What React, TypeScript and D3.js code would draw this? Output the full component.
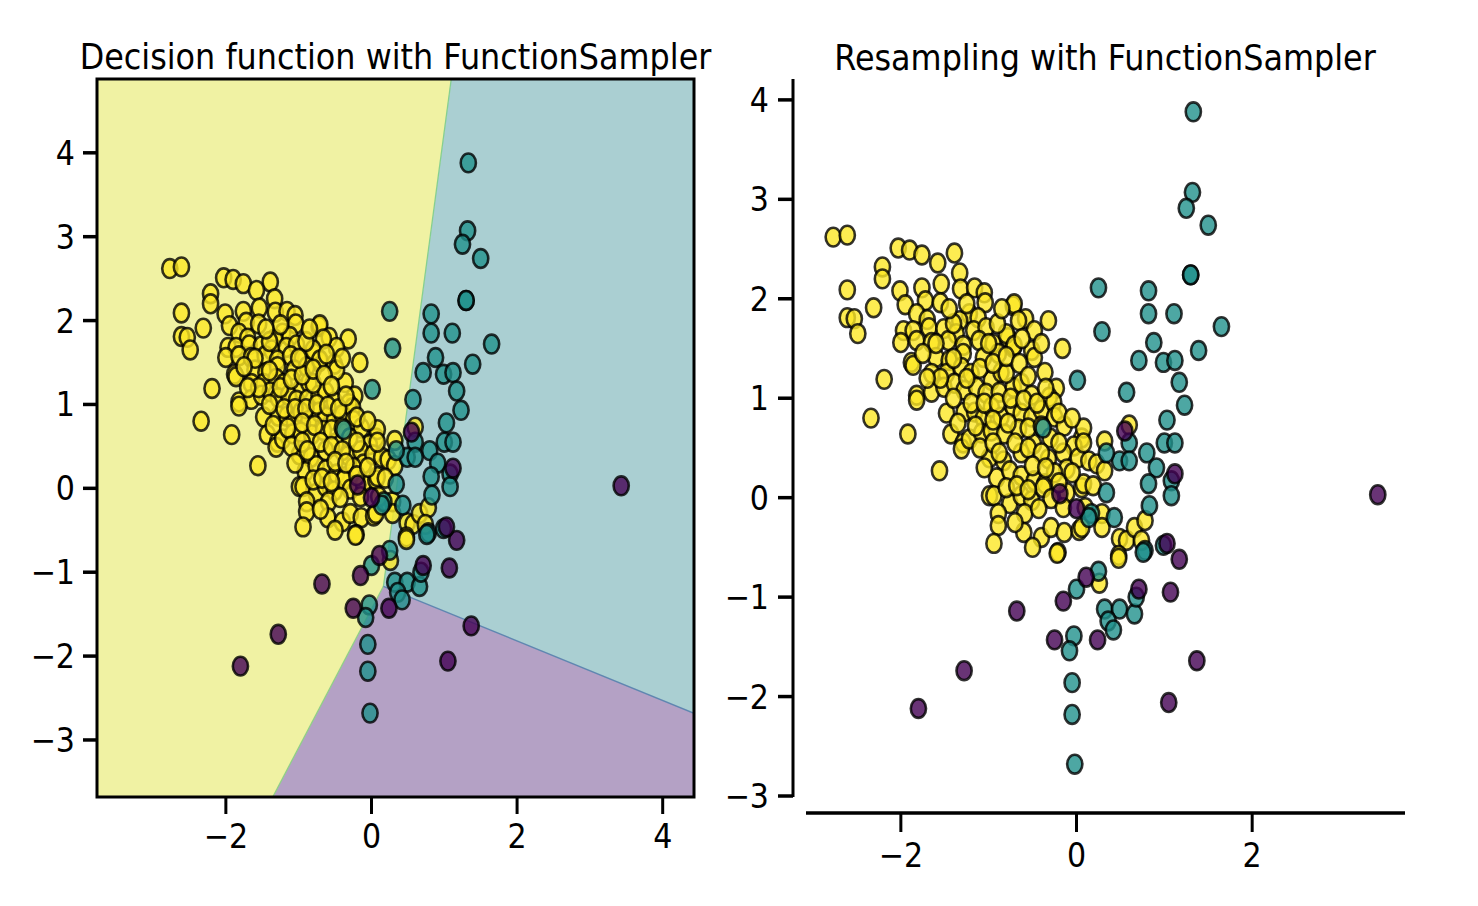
import React, { useRef, useEffect } from 'react';
import * as d3 from 'd3';

type Pt = [number, number];

// class 0 (purple)
const class0: Pt[] = [
  [3.43, 0.03], [-1.80, -2.12], [-1.28, -1.74], [-0.68, -1.14], [-0.25, -1.43],
  [0.24, -1.43], [-0.15, -1.04], [0.11, -0.80], [0.71, -0.92], [1.07, -0.95],
  [1.17, -0.62], [1.37, -1.64], [1.05, -2.06], [0.55, 0.67], [1.12, 0.24],
  [1.03, -0.46], [-0.19, 0.04], [0.00, -0.11],
];

// class 1 (teal)
const class1: Pt[] = [
  [1.33, 3.88], [1.32, 3.07], [1.25, 2.91], [1.50, 2.74], [1.30, 2.24], [1.30, 2.24],
  [0.25, 2.11], [0.82, 2.08], [0.82, 1.85], [1.11, 1.85], [1.65, 1.72], [0.29, 1.67],
  [0.88, 1.56], [1.39, 1.48], [0.71, 1.38], [0.99, 1.36], [1.12, 1.38], [1.17, 1.16],
  [0.01, 1.18], [0.57, 1.06], [1.23, 0.93], [1.03, 0.78], [1.00, 0.55], [1.12, 0.55],
  [0.60, 0.55], [0.80, 0.45], [0.49, 0.37], [0.60, 0.37], [0.34, 0.45], [0.91, 0.30],
  [0.82, 0.14], [1.08, 0.17], [1.08, 0.02], [0.34, 0.05], [0.83, -0.08], [0.43, -0.20],
  [0.17, -0.16], [0.78, -0.53], [0.99, -0.48], [0.14, -0.20], [-0.38, 0.70], [0.76, -0.55],
  [0.25, -0.74], [0.00, -0.92], [0.32, -1.12], [0.49, -1.12], [0.36, -1.24], [0.42, -1.33],
  [0.66, -1.17], [0.68, -1.00], [-0.03, -1.39], [-0.08, -1.54], [-0.05, -1.86],
  [-0.05, -2.18], [-0.02, -2.68],
];

// class 2 (yellow)
const class2: Pt[] = [
  [-2.77, 2.62], [-2.61, 2.64], [-2.03, 2.51], [-1.90, 2.49], [-1.76, 2.44], [-1.39, 2.46],
  [-1.58, 2.36], [-2.21, 2.32], [-2.21, 2.20], [-1.33, 2.26], [-2.61, 2.09], [-2.01, 2.08],
  [-1.76, 2.11], [-1.54, 2.15], [-1.32, 2.10], [-1.16, 2.11], [-1.05, 2.06], [-1.95, 1.94],
  [-1.72, 1.98], [-1.55, 1.96], [-1.04, 1.96], [-0.72, 1.93], [-2.31, 1.91], [-2.61, 1.81],
  [-2.53, 1.80], [-2.49, 1.65], [-1.82, 1.85], [-1.70, 1.79], [-1.22, 1.85], [-1.12, 1.81],
  [-1.33, 1.78], [-1.97, 1.68], [-1.86, 1.68], [-1.68, 1.71], [-1.51, 1.70], [-1.37, 1.65],
  [-1.17, 1.68], [-1.03, 1.71], [-2.00, 1.56], [-1.82, 1.58], [-1.65, 1.56], [-1.46, 1.58],
  [-1.29, 1.53], [-1.11, 1.58], [-0.95, 1.55], [-0.78, 1.61], [-0.72, 1.51], [-1.88, 1.36],
  [-1.86, 1.33], [-1.60, 1.41], [-1.45, 1.38], [-1.29, 1.45], [-1.06, 1.41], [-0.89, 1.45],
  [-1.65, 1.25], [-1.48, 1.25], [-1.31, 1.31], [-1.20, 1.25], [-0.97, 1.18], [-0.86, 1.26],
  [-2.19, 1.19], [-1.82, 1.03], [-1.65, 1.06], [-1.51, 1.11], [-1.39, 1.15], [-1.28, 1.08],
  [-1.14, 1.11], [-1.03, 1.05], [-0.88, 1.06], [-0.72, 1.11],
  [-0.71, 1.95], [-0.58, 1.80], [-0.32, 1.78], [-0.48, 1.68], [-0.66, 1.78], [-0.80, 1.65],
  [-0.71, 1.53], [-0.51, 1.48], [-0.16, 1.50], [-0.36, 1.26], [-0.63, 1.15], [-0.48, 1.41],
  [-0.23, 1.10], [-0.80, 1.25], [-0.51, 1.03], [-0.31, 1.01],
  [-1.82, 0.98], [-1.92, 0.64], [-1.56, 0.27], [-1.48, 0.85], [-1.43, 0.64], [-1.29, 0.55],
  [-1.31, 0.49], [-1.28, 0.86], [-1.16, 0.86], [-1.06, 0.80], [-0.97, 0.91], [-0.86, 0.81],
  [-0.72, 0.91], [-0.63, 0.85], [-0.51, 0.81], [-0.40, 0.88], [-0.26, 0.96], [-0.25, 0.81],
  [-1.22, 0.59], [-1.08, 0.65], [-0.97, 0.67], [-0.82, 0.64], [-0.66, 0.69], [-0.49, 0.54],
  [-0.14, 0.72], [0.06, 0.60], [-0.03, 0.52], [-0.99, 0.40], [-0.83, 0.37], [-0.63, 0.45],
  [-0.32, 0.39], [-0.15, 0.45], [-0.11, 0.29], [0.02, 0.40], [0.14, 0.37], [-0.91, 0.20],
  [-0.76, 0.27], [-0.63, 0.22], [-0.48, 0.17], [-0.36, 0.14], [-0.25, 0.25], [-0.99, 0.02],
  [-0.94, 0.02], [-0.76, -0.06], [-0.63, 0.02], [-0.51, -0.03], [-0.38, 0.10], [-0.29, -0.01],
  [-0.11, 0.05], [0.06, 0.10], [-0.89, -0.16], [-0.89, -0.28], [-0.59, -0.16], [-0.43, -0.11],
  [-0.60, -0.35], [-0.40, -0.40], [-0.29, -0.30], [-0.14, -0.35], [0.03, -0.33], [-0.94, -0.46],
  [-0.21, -0.55],
  [0.60, 0.73], [0.32, 0.57], [0.08, 0.70], [0.08, 0.55], [0.23, 0.34], [0.32, 0.27],
  [0.08, 0.14], [0.19, 0.12], [0.29, -0.16], [0.06, -0.30], [0.29, -0.30], [0.49, -0.41],
  [0.57, -0.43], [0.66, -0.30], [0.78, -0.23], [0.74, -0.43], [0.48, -0.58],
  [-0.22, -0.56], [0.48, -0.61], [0.26, -0.86], [-2.34, 0.80],
  [-1.40, 1.00], [-1.20, 0.95], [-1.05, 0.95], [-0.90, 0.95], [-0.75, 1.00], [-0.60, 0.98],
  [-0.45, 0.95], [-1.35, 0.75], [-1.15, 0.72], [-0.95, 0.78], [-0.78, 0.75], [-0.55, 0.70],
  [-0.40, 0.72], [-0.30, 0.60], [-1.10, 0.50], [-0.95, 0.55], [-0.70, 0.55], [-0.55, 0.50],
  [-0.40, 0.45], [-0.20, 0.55], [-1.05, 0.30], [-0.88, 0.45], [-0.50, 0.32], [-0.35, 0.30],
  [-0.20, 0.15], [-0.80, 0.10], [-0.68, 0.12], [-0.55, 0.08], [-1.55, 1.20], [-1.40, 1.40],
  [-1.25, 1.20], [-1.10, 1.30], [-0.95, 1.35], [-0.80, 1.42], [-0.65, 1.35], [-0.55, 1.22],
  [-1.60, 1.55], [-1.40, 1.75], [-1.25, 1.95], [-1.45, 1.90], [-0.90, 1.75], [-0.85, 1.90],
  [-1.00, 1.55], [-0.62, 1.60], [-0.40, 1.55], [-0.35, 1.10], [-0.20, 0.85], [-0.05, 0.80],
  [-1.75, 1.45], [-1.70, 1.20], [-0.15, -0.10], [-0.70, -0.25], [-0.50, -0.50], [0.10, -0.10],
  [-0.05, 0.25],
];

const classColors = ['#440154', '#21918c', '#fde725'];
const regionColors = ['#b4a1c5', '#aacfd2', '#f0f2a3'];

// decision regions of the fitted classifier: the three boundaries meet at
// `junction` and leave the plotting grid at the points below
const junction: Pt = [0.164, -1.168];
const edgeYellowTeal: Pt = [1.096, 4.88];
const edgeYellowPurple: Pt = [-1.356, -3.68];
const edgeTealPurple: Pt = [4.43, -2.682];

const leftXDomain = [-3.77, 4.43];
const leftYDomain = [-3.68, 4.88];
const rightXDomain = [-3.08, 3.74];
const rightYDomain = [-3.01, 4.21];

const leftXTicks = [-2, 0, 2, 4];
const rightXTicks = [-2, 0, 2];
const yTicks = [-3, -2, -1, 0, 1, 2, 3, 4];

const titles = ['Decision function with FunctionSampler', 'Resampling with FunctionSampler'];

const FONT = "'DejaVu Sans', sans-serif";
const SQUEEZE = 0.885;

function App() {
  const svgRef = useRef<SVGSVGElement>(null);

  useEffect(() => {
    const svg = d3.select(svgRef.current);
    svg.selectAll('*').remove();

    const fmt = (d: number) => (d < 0 ? '\u2212' + Math.abs(d) : String(d));

    const label = (
      g: any, x: number, y: number, text: string, size: number, anchor: string,
    ) => {
      g.append('text')
        .attr('transform', `translate(${x},${y}) scale(${SQUEEZE},1)`)
        .attr('text-anchor', anchor)
        .attr('font-family', FONT)
        .attr('font-size', size)
        .attr('fill', '#000')
        .text(text);
    };

    const drawPoints = (g: any, x: any, y: any) => {
      // yellow first, then teal and purple on top
      [class2, class1, class0].forEach((pts, i) => {
        const color = classColors[2 - i];
        g.append('g')
          .selectAll('ellipse')
          .data(pts)
          .join('ellipse')
          .attr('cx', (d: Pt) => x(d[0]))
          .attr('cy', (d: Pt) => y(d[1]))
          .attr('rx', 7.6)
          .attr('ry', 9.4)
          .attr('fill', color)
          .attr('fill-opacity', 0.8)
          .attr('stroke', '#000')
          .attr('stroke-opacity', 0.8)
          .attr('stroke-width', 2.6);
      });
    };

    // ---------- left: decision function ----------
    const xL = d3.scaleLinear().domain(leftXDomain).range([97, 694]);
    const yL = d3.scaleLinear().domain(leftYDomain).range([797, 79]);
    const left = svg.append('g');

    svg.append('defs')
      .append('clipPath')
      .attr('id', 'leftClip')
      .append('rect')
      .attr('x', 97).attr('y', 79).attr('width', 597).attr('height', 718);

    const [x0, x1] = leftXDomain;
    const [y0, y1] = leftYDomain;
    const regions: Pt[][] = [
      [junction, edgeTealPurple, [x1, y0], edgeYellowPurple],
      [edgeYellowTeal, [x1, y1], edgeTealPurple, junction],
      [[x0, y1], edgeYellowTeal, junction, edgeYellowPurple, [x0, y0]],
    ];
    const line = d3.line<Pt>().x((d) => xL(d[0])).y((d) => yL(d[1]));
    const regionG = left.append('g').attr('clip-path', 'url(#leftClip)');
    regionG.selectAll('path.region')
      .data(regions)
      .join('path')
      .attr('class', 'region')
      .attr('d', (d) => line(d) + 'Z')
      .attr('fill', (d, i) => regionColors[i]);

    const boundaries: { pts: Pt[]; color: string }[] = [
      { pts: [edgeYellowTeal, junction], color: '#86cf8f' },
      { pts: [junction, edgeYellowPurple], color: '#8fcf86' },
      { pts: [junction, edgeTealPurple], color: '#5f86b0' },
    ];
    regionG.selectAll('path.boundary')
      .data(boundaries)
      .join('path')
      .attr('class', 'boundary')
      .attr('d', (d) => line(d.pts))
      .attr('fill', 'none')
      .attr('stroke', (d) => d.color)
      .attr('stroke-width', 1.3);

    drawPoints(left, xL, yL);

    left.append('rect')
      .attr('x', 97).attr('y', 79).attr('width', 597).attr('height', 718)
      .attr('fill', 'none').attr('stroke', '#000').attr('stroke-width', 3);

    left.selectAll('line.xt')
      .data(leftXTicks)
      .join('line')
      .attr('class', 'xt')
      .attr('x1', (d) => xL(d)).attr('x2', (d) => xL(d))
      .attr('y1', 797).attr('y2', 814)
      .attr('stroke', '#000').attr('stroke-width', 3);
    leftXTicks.forEach((d) => label(left, xL(d), 848, fmt(d), 34, 'middle'));

    left.selectAll('line.yt')
      .data(yTicks)
      .join('line')
      .attr('class', 'yt')
      .attr('x1', 83).attr('x2', 97)
      .attr('y1', (d) => yL(d)).attr('y2', (d) => yL(d))
      .attr('stroke', '#000').attr('stroke-width', 3.5);
    yTicks.forEach((d) => label(left, 75, yL(d) + 12, fmt(d), 34, 'end'));

    label(left, 395.5, 69, titles[0], 36, 'middle');

    // ---------- right: resampled data ----------
    const xR = d3.scaleLinear().domain(rightXDomain).range([806, 1405]);
    const yR = d3.scaleLinear().domain(rightYDomain).range([797, 79]);
    const right = svg.append('g');

    drawPoints(right, xR, yR);

    right.append('line')
      .attr('x1', 793).attr('x2', 793).attr('y1', 79).attr('y2', 797)
      .attr('stroke', '#000').attr('stroke-width', 3);
    right.append('line')
      .attr('x1', 806).attr('x2', 1405).attr('y1', 813).attr('y2', 813)
      .attr('stroke', '#000').attr('stroke-width', 3.5);

    right.selectAll('line.xt')
      .data(rightXTicks)
      .join('line')
      .attr('class', 'xt')
      .attr('x1', (d) => xR(d)).attr('x2', (d) => xR(d))
      .attr('y1', 813).attr('y2', 832)
      .attr('stroke', '#000').attr('stroke-width', 3);
    rightXTicks.forEach((d) => label(right, xR(d), 867, fmt(d), 34, 'middle'));

    right.selectAll('line.yt')
      .data(yTicks)
      .join('line')
      .attr('class', 'yt')
      .attr('x1', 778).attr('x2', 793)
      .attr('y1', (d) => yR(d)).attr('y2', (d) => yR(d))
      .attr('stroke', '#000').attr('stroke-width', 3.5);
    yTicks.forEach((d) => label(right, 769, yR(d) + 12, fmt(d), 34, 'end'));

    label(right, 1105, 70, titles[1], 36, 'middle');
  }, []);

  return (
    <svg
      ref={svgRef}
      width={1478}
      height={906}
      style={{ position: 'absolute', left: 0, top: 0, background: '#fff' }}
    />
  );
}

export default App;
